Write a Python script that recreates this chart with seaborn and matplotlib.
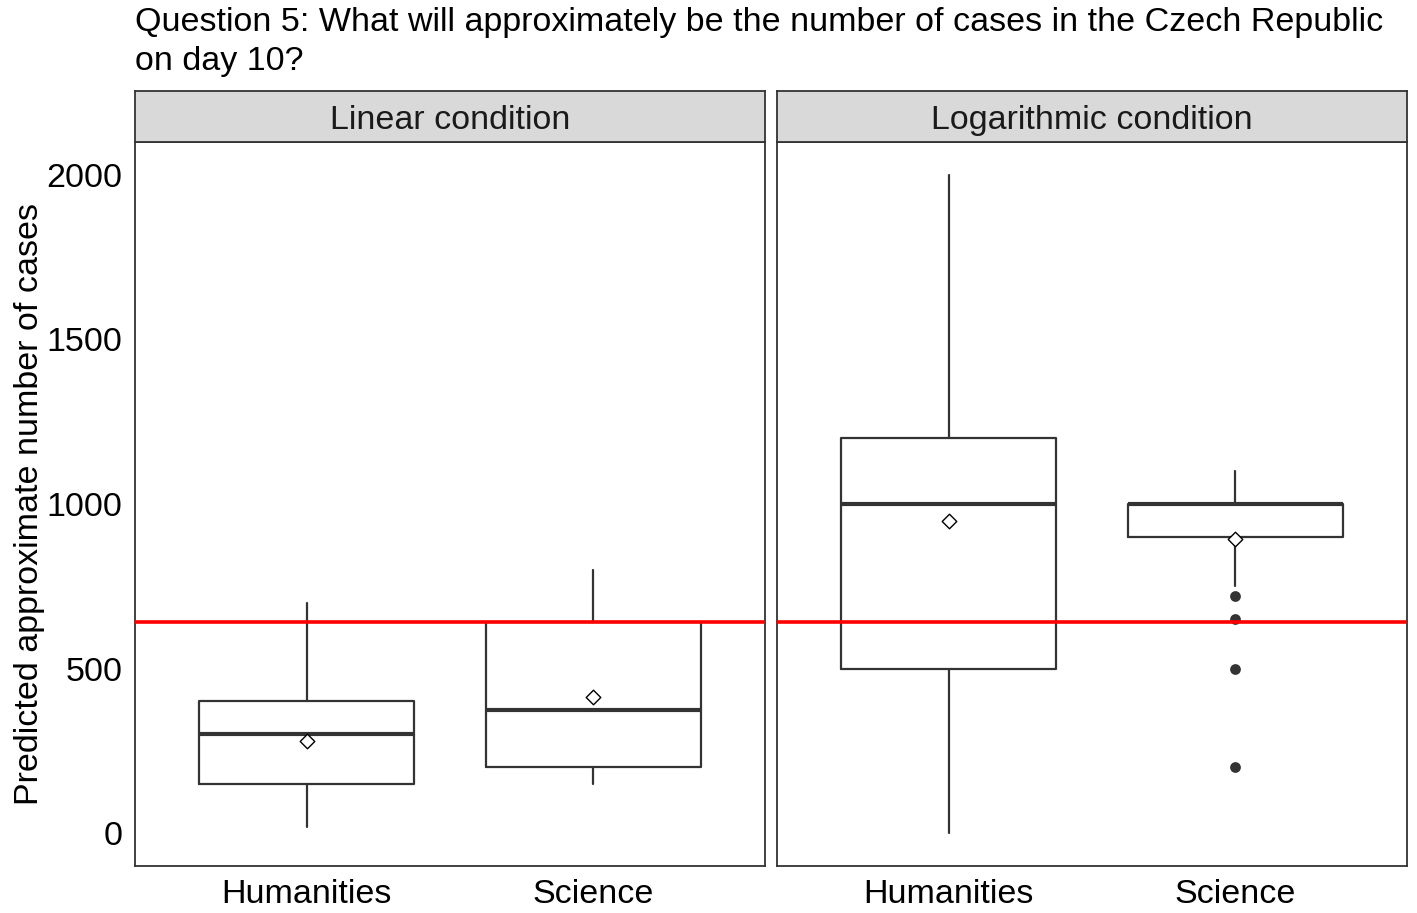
import numpy as np
import pandas as pd
import seaborn as sns
import matplotlib.pyplot as plt

# values
conditions = ["Linear condition", "Logarithmic condition"]
groups = ["Humanities", "Science"]

whisker_low = {"Linear condition": [20, 150], "Logarithmic condition": [0, 750]}
q1 = {"Linear condition": [150, 200], "Logarithmic condition": [500, 900]}
median = {"Linear condition": [300, 375], "Logarithmic condition": [1000, 1000]}
q3 = {"Linear condition": [400, 640], "Logarithmic condition": [1200, 1000]}
whisker_high = {"Linear condition": [700, 800], "Logarithmic condition": [2000, 1100]}
means = {"Linear condition": [280, 413], "Logarithmic condition": [948, 893]}
outliers = {"Linear condition": [[], []], "Logarithmic condition": [[], [720, 650, 500, 200]]}

true_value = 640
yticks = [0, 500, 1000, 1500, 2000]

sns.set_theme(style="white")
plt.rcParams["font.family"] = ["Liberation Sans", "DejaVu Sans"]
plt.rcParams["text.color"] = "black"
plt.rcParams["axes.labelcolor"] = "black"

W, H = 1417, 913
fig = plt.figure(figsize=(W / 100, H / 100), dpi=100)

line_col = "#333333"
fs = 24.5

panel_left = [135, 777]
panel_w = 630
top_px, bottom_px, strip_top = 142, 866, 91

for i, cond in enumerate(conditions):
    x0 = panel_left[i] / W
    ax = fig.add_axes([x0, 1 - bottom_px / H, panel_w / W, (bottom_px - top_px) / H])
    strip = fig.add_axes([x0, 1 - top_px / H, panel_w / W, (top_px - strip_top) / H])

    stats = []
    for j, g in enumerate(groups):
        stats.append({
            "label": g,
            "whislo": whisker_low[cond][j],
            "q1": q1[cond][j],
            "med": median[cond][j],
            "q3": q3[cond][j],
            "whishi": whisker_high[cond][j],
            "fliers": [],
        })
    ax.bxp(stats, positions=[1, 2], widths=0.75, showcaps=False, showfliers=False,
           boxprops=dict(color=line_col, linewidth=1.6),
           whiskerprops=dict(color=line_col, linewidth=1.6),
           medianprops=dict(color=line_col, linewidth=3.0),
           manage_ticks=False)

    # outliers
    out_x, out_y = [], []
    for j, vals in enumerate(outliers[cond]):
        out_x += [j + 1] * len(vals)
        out_y += vals
    if out_y:
        sns.scatterplot(x=out_x, y=out_y, ax=ax, color=line_col, s=60,
                        edgecolor=line_col, linewidth=0, zorder=3)

    # means
    sns.scatterplot(x=[1, 2], y=means[cond], ax=ax, marker="D", s=55,
                    facecolor="white", edgecolor="black", linewidth=1.0, zorder=4)

    ax.axhline(true_value, color="#FF0000", linewidth=2.6, zorder=5)

    ax.set_xlim(0.4, 2.6)
    ax.set_ylim(-100, 2100)
    ax.set_xticks([1, 2])
    ax.set_xticklabels(groups, fontsize=fs, color="black")
    ax.set_yticks(yticks)
    ax.tick_params(axis="both", direction="out", length=6, width=1.2, color=line_col,
                   labelsize=fs, labelcolor="black", pad=3)
    if i == 0:
        ax.set_yticklabels([str(v) for v in yticks])
        ax.set_ylabel("Predicted approximate number of cases", fontsize=fs,
                      labelpad=1, color="black")
    else:
        ax.set_yticklabels([])
        ax.tick_params(axis="y", length=0)
        ax.set_ylabel("")
    ax.set_xlabel("")
    for sp in ax.spines.values():
        sp.set_visible(True)
        sp.set_color(line_col)
        sp.set_linewidth(1.3)

    strip.set_facecolor("#D9D9D9")
    strip.set_xticks([])
    strip.set_yticks([])
    for sp in strip.spines.values():
        sp.set_visible(True)
        sp.set_color(line_col)
        sp.set_linewidth(1.3)
    strip.text(0.5, 0.43, cond, ha="center", va="center", fontsize=fs,
               color="#1A1A1A", transform=strip.transAxes)

fig.text(135 / W, 1 - 7 / H,
         "Question 5: What will approximately be the number of cases in the Czech Republic\non day 10?",
         ha="left", va="top", fontsize=fs, color="black", linespacing=1.35)

fig.savefig("out.png", dpi=100)
